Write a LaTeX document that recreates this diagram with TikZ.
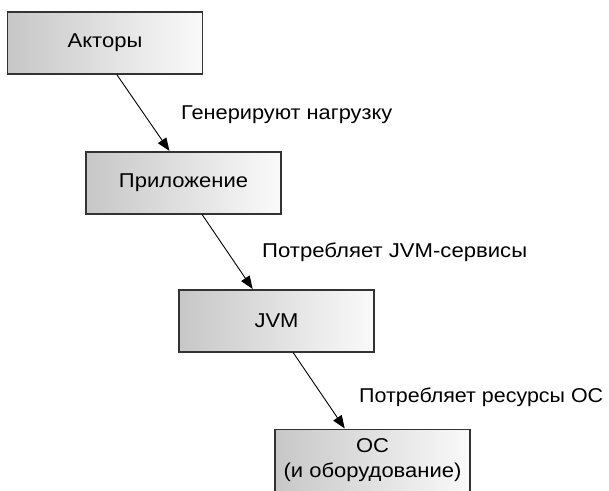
\documentclass[tikz,border=0pt]{standalone}
\usepackage{fontspec}
\setmainfont{Liberation Sans}
\usetikzlibrary{arrows.meta,calc}
% slightly widened lettering
\newcommand{\wide}[1]{\scalebox{1.1}[1]{#1}}
% lettering set to a given width, height kept
\newcommand{\fitto}[2]{\resizebox{#1}{\height}{#2}}
\begin{document}
\begin{tikzpicture}[x=1pt,y=-1pt,
  layer/.style={draw=black!80, line width=1.2pt, left color=black!22, right color=black!2,
    minimum width=195pt, minimum height=62pt, inner sep=0pt, align=center,
    font=\fontsize{20}{25}\selectfont},
  note/.style={anchor=west, inner sep=0pt, font=\fontsize{20}{22}\selectfont},
  flow/.style={-{Triangle[length=13pt,width=10pt]}, line width=0.9pt, shorten >=0.5pt}]
  \useasboundingbox (0,0) rectangle (609,490);

  \node[layer] (actors) at (105,43) {\wide{Акторы}};
  \node[layer] (app) at (183.5,183) {\wide{Приложение}};
  \node[layer] (jvm) at (276.5,321) {\wide{JVM}};
  \node[layer] (os) at (372.5,460.5) {\wide{ОС}\\\wide{(и оборудование)}};

  \node[note] (l1) at (181,115) {\fitto{211pt}{Генерируют нагрузку}};
  \node[note] (l2) at (262,252) {\fitto{265pt}{Потребляет JVM-сервисы}};
  \node[note] (l3) at (359,397) {\fitto{244pt}{Потребляет ресурсы ОС}};

  \draw[flow] ($(actors.south west)!0.56!(actors.south east)$) -- ($(app.north west)!0.43!(app.north east)$);
  \draw[flow] ($(app.south west)!0.595!(app.south east)$) -- ($(jvm.north west)!0.38!(jvm.north east)$);
  \draw[flow] ($(jvm.south west)!0.585!(jvm.south east)$) -- ($(os.north west)!0.36!(os.north east)$);
\end{tikzpicture}
\end{document}
